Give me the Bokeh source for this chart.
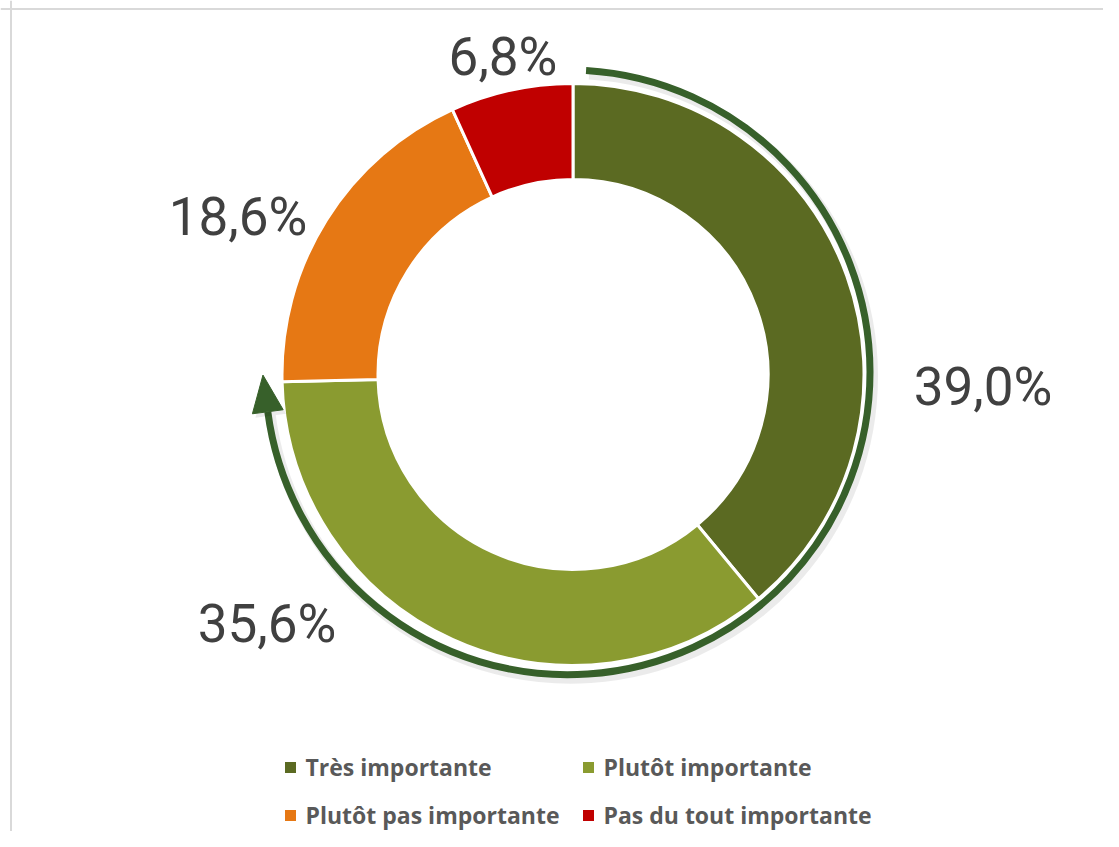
import math
from bokeh.plotting import figure
from bokeh.models import Range1d, Span
from bokeh.core.properties import value
from bokeh.embed import file_html
from bokeh.resources import INLINE

# ---- data ----
categories = ["Très importante", "Plutôt importante", "Plutôt pas importante", "Pas du tout importante"]
shares = [39.0, 35.6, 18.6, 6.8]
colors = ["#5B6A22", "#8A9B30", "#E67814", "#C00000"]

# ---- layout (pixel units, donut centre at 0,0) ----
label_x = [410, -306, -335, -70]
label_y = [-31, -268, 139, 299]
legend_sq_x = [-282.5, 15.5, -282.5, 15.5]
legend_y = [-393, -393, -441, -441]

W, H = 1103, 831
p = figure(width=W, height=H, x_range=Range1d(-572.5, W - 572.5), y_range=Range1d(374 - H, 374),
           output_backend="svg", toolbar_location=None, min_border=0)
p.axis.visible = False
p.grid.visible = False
p.outline_line_color = None
p.background_fill_color = "white"
p.border_fill_color = "white"

# frame lines (top / left)
p.add_layout(Span(location=365.5, dimension="width", line_color="#D9D9D9", line_width=2))
p.add_layout(Span(location=-562, dimension="height", line_color="#D9D9D9", line_width=2))

# donut
total = sum(shares)
starts, ends = [], []
cum = 0.0
for v in shares:
    starts.append(math.pi / 2 - 2 * math.pi * cum / total)
    cum += v
    ends.append(math.pi / 2 - 2 * math.pi * cum / total)

p.annular_wedge(x=0, y=0, inner_radius=195, outer_radius=291,
                start_angle=starts, end_angle=ends, direction="clock",
                fill_color=colors, line_color="white", line_width=3)

# curved arrow (Très + Plutôt importante)
acx, acy, R = -5.4, 2.2, 302.4
a0 = math.radians(86.5)
a1 = math.radians(187.5)
shadow_dx, shadow_dy = 3, -4
p.arc(x=acx + shadow_dx, y=acy + shadow_dy, radius=R, start_angle=a0, end_angle=a1, direction="clock",
      line_color="black", line_alpha=0.08, line_width=10)
p.arc(x=acx, y=acy, radius=R, start_angle=a0, end_angle=a1, direction="clock",
      line_color="#37602A", line_width=7)
# arrow head
bx, by = acx + R * math.cos(a1), acy + R * math.sin(a1)
tx, ty = math.sin(a1), -math.cos(a1)     # clockwise tangent
nx, ny = math.cos(a1), math.sin(a1)
L, Wd = 37, 31
hx = [bx + L * tx, bx + Wd / 2 * nx, bx - Wd / 2 * nx]
hy = [by + L * ty, by + Wd / 2 * ny, by - Wd / 2 * ny]
p.patch([x + shadow_dx for x in hx], [y + shadow_dy for y in hy], fill_color="black", fill_alpha=0.08, line_color=None)
p.patch(hx, hy, fill_color="#37602A", line_color="#37602A", line_width=1)

# percentage labels
LBL = 53
labels = [f"{v:.1f}".replace(".", ",") + "%" for v in shares]
p.text(x=label_x, y=[y + 0.35 * LBL for y in label_y], text=labels, text_align="center",
       text_baseline="alphabetic",
       text_font=value("Roboto"), text_font_size=f"{LBL}px", text_color="#404040")

# legend
p.scatter(x=legend_sq_x, y=legend_y, marker="square", size=11, fill_color=colors, line_color=None)
p.text(x=[x + 15 for x in legend_sq_x], y=[y + 1 for y in legend_y], text=categories,
       text_align="left", text_baseline="alphabetic",
       text_font=value("Open Sans"), text_font_style="bold", text_font_size="23px", text_color="#595959")

open("out.html", "w").write(file_html(p, INLINE))
